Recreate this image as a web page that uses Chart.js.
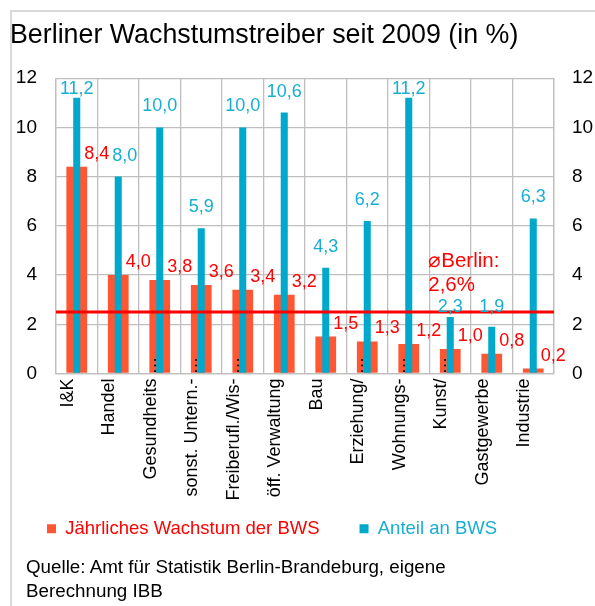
<!DOCTYPE html>
<html>
<head>
<meta charset="utf-8">
<script src="https://cdn.jsdelivr.net/npm/chart.js@4"></script>
<style>
  html, body { margin: 0; padding: 0; background: #fff; }
  body { width: 595px; height: 606px; position: relative; overflow: hidden; font-family: 'Liberation Sans', Arial, sans-serif; }
  #frame { position: absolute; left: 10px; top: 10px; width: 600px; height: 600px; border-top: 2px solid #D9D9D9; border-left: 2px solid #D9D9D9; box-sizing: border-box; }
  #wrap { position: absolute; left: 0; top: 0; width: 595px; height: 606px; }
  #source { position: absolute; left: 26px; top: 555px; font-size: 18.8px; line-height: 24px; color: #000; }
</style>
</head>
<body>
<div id="frame"></div>
<div id="wrap"><canvas id="c" width="595" height="606"></canvas></div>
<div id="source">Quelle: Amt für Statistik Berlin-Brandeburg, eigene<br>Berechnung IBB</div>
<script>
const titleText = 'Berliner Wachstumstreiber seit 2009 (in %)';
const categories = ['I&K', 'Handel', 'Gesundheits…', 'sonst. Untern.-…', 'Freiberufl./Wis-…', 'öff. Verwaltung', 'Bau', 'Erziehung/…', 'Wohnungs-…', 'Kunst/…', 'Gastgewerbe', 'Industrie'];
const growthLabel = 'Jährliches Wachstum der BWS';
const growth = [8.4, 4.0, 3.8, 3.6, 3.4, 3.2, 1.5, 1.3, 1.2, 1.0, 0.8, 0.2];
const shareLabel = 'Anteil an BWS';
const share = [11.2, 8.0, 10.0, 5.9, 10.0, 10.6, 4.3, 6.2, 11.2, 2.3, 1.9, 6.3];
const berlinLineValue = 2.5;
const berlinTextLines = ['⌀Berlin:', '2,6%'];
const berlinTextCategory = 9;
const yMin = 0, yMax = 12, yStep = 2;

const RED = '#FF5733';
const RED_TEXT = '#FF0000';
const BLUE = '#00A9CC';
const BLUE_TEXT = '#17AED2';
const GRID = '#BFBFBF';
const FONT = "'Liberation Sans', Arial, sans-serif";
const LABEL_OFFSET = -9;
const LEGEND_SHIFT_Y = -26;
const LEGEND_SHIFT_X = -3;

const fmt = v => v.toFixed(1).replace('.', ',');
const hit = (a, b) => a.l < b.r && a.r > b.l && a.t < b.b && a.b > b.t;

const overlayPlugin = {
  id: 'overlay',
  afterLayout(chart) {
    const lg = chart.legend;
    if (lg) {
      lg.top += LEGEND_SHIFT_Y; lg.bottom += LEGEND_SHIFT_Y;
      lg.left += LEGEND_SHIFT_X; lg.right += LEGEND_SHIFT_X;
    }
  },
  afterDatasetsDraw(chart) {
    const ctx = chart.ctx;
    const area = chart.chartArea;
    const x = chart.scales.x, y = chart.scales.y;
    // average line
    const ly = y.getPixelForValue(berlinLineValue);
    ctx.save();
    ctx.strokeStyle = '#FF0000';
    ctx.lineWidth = 3;
    ctx.beginPath();
    ctx.moveTo(area.left, ly);
    ctx.lineTo(area.right, ly);
    ctx.stroke();
    // Berlin average text
    ctx.fillStyle = RED_TEXT;
    ctx.font = '20.5px ' + FONT;
    ctx.textAlign = 'left';
    ctx.textBaseline = 'middle';
    const tx = x.getPixelForValue(berlinTextCategory) - 22;
    ctx.fillText(berlinTextLines[0], tx, ly - 51);
    ctx.fillText(berlinTextLines[1], tx, ly - 27);
    const bw = Math.max(ctx.measureText(berlinTextLines[0]).width, ctx.measureText(berlinTextLines[1]).width);
    const berlinBox = { l: tx, r: tx + bw, t: ly - 63, b: ly - 16 };
    // value labels
    ctx.font = '18px ' + FONT;
    ctx.textAlign = 'center';
    const redBoxes = [];
    const mRed = chart.getDatasetMeta(0);
    mRed.data.forEach((bar, i) => {
      const t = fmt(growth[i]);
      const w = ctx.measureText(t).width;
      const cx = bar.x + 20, cy = bar.y - 13;
      ctx.fillStyle = RED_TEXT;
      ctx.fillText(t, cx, cy);
      redBoxes.push({ l: cx - w / 2, r: cx + w / 2, t: cy - 10, b: cy + 10 });
    });
    const mBlue = chart.getDatasetMeta(1);
    mBlue.data.forEach((bar, i) => {
      const t = fmt(share[i]);
      const w = ctx.measureText(t).width;
      let cx = bar.x;
      let cy = Math.max(bar.y - 21, area.top + 11);
      redBoxes.forEach(rb => {
        const box = { l: cx - w / 2, r: cx + w / 2, t: cy - 10, b: cy + 10 };
        if (hit(box, rb) && rb.l < cx) cx = rb.r + w / 2 + 3;
      });
      const box = { l: cx - w / 2, r: cx + w / 2, t: cy - 10, b: cy + 10 };
      if (hit(box, berlinBox)) cy = berlinBox.b + 11;
      ctx.fillStyle = BLUE_TEXT;
      ctx.fillText(t, cx, cy);
    });
    // truncated label ellipsis rising above the axis
    ctx.fillStyle = '#000';
    ctx.font = '18px ' + FONT;
    categories.forEach((c, i) => {
      if (c.endsWith('…')) {
        const px = x.getPixelForTick(i) + LABEL_OFFSET;
        ctx.save();
        ctx.translate(px, area.bottom + 1);
        ctx.rotate(-Math.PI / 2);
        ctx.textAlign = 'left';
        ctx.textBaseline = 'middle';
        ctx.fillText('…', 0, 0);
        ctx.restore();
      }
    });
    ctx.restore();
  }
};

new Chart(document.getElementById('c'), {
  type: 'bar',
  data: {
    labels: categories,
    datasets: [
      { label: growthLabel, data: growth, backgroundColor: RED, order: 1, grouped: false, barPercentage: 0.5, categoryPercentage: 1 },
      { label: shareLabel, data: share, backgroundColor: BLUE, order: 0, grouped: false, barPercentage: 0.17, categoryPercentage: 1 }
    ]
  },
  options: {
    responsive: false,
    animation: false,
    devicePixelRatio: 1,
    layout: { padding: { left: 10, right: 0, top: 11, bottom: 32 } },
    plugins: {
      tooltip: { enabled: false },
      title: {
        display: true, text: titleText, align: 'start', color: '#000',
        font: { family: FONT, size: 26.8, weight: 'normal' },
        padding: { top: 9, bottom: 26 }
      },
      legend: {
        display: true, position: 'bottom', align: 'start',
        labels: {
          font: { family: FONT, size: 18.5 },
          boxWidth: 9, boxHeight: 9, padding: 40,
          sort: (a, b) => a.datasetIndex - b.datasetIndex,
          generateLabels(chart) {
            return chart.data.datasets.map((ds, i) => ({
              text: ds.label,
              fillStyle: ds.backgroundColor,
              strokeStyle: ds.backgroundColor,
              lineWidth: 0,
              fontColor: i === 0 ? RED_TEXT : BLUE_TEXT,
              hidden: false,
              datasetIndex: i
            }));
          }
        }
      }
    },
    scales: {
      x: {
        offset: true,
        grid: { display: true, offset: true, color: GRID, lineWidth: 1.3, drawTicks: false },
        border: { display: true, color: GRID, width: 1.3 },
        ticks: {
          color: '#000', font: { family: FONT, size: 18 },
          minRotation: 90, maxRotation: 90, autoSkip: false, padding: 5,
          labelOffset: LABEL_OFFSET,
          callback: (v, i) => categories[i].replace('…', '')
        },
        afterFit: s => { s.height = 132; }
      },
      y: {
        position: 'left', min: yMin, max: yMax,
        grid: { color: GRID, lineWidth: 1.3, drawTicks: false },
        border: { display: true, color: GRID, width: 1.3 },
        ticks: { stepSize: yStep, color: '#000', font: { family: FONT, size: 19 }, padding: 19 },
        afterFit: s => { s.width = 46; }
      },
      y2: {
        position: 'right', min: yMin, max: yMax,
        grid: { display: false, drawTicks: false },
        border: { display: true, color: GRID, width: 1.3 },
        ticks: { stepSize: yStep, color: '#000', font: { family: FONT, size: 19 }, padding: 18 },
        afterFit: s => { s.width = 41; }
      }
    }
  },
  plugins: [overlayPlugin]
});
</script>
</body>
</html>
